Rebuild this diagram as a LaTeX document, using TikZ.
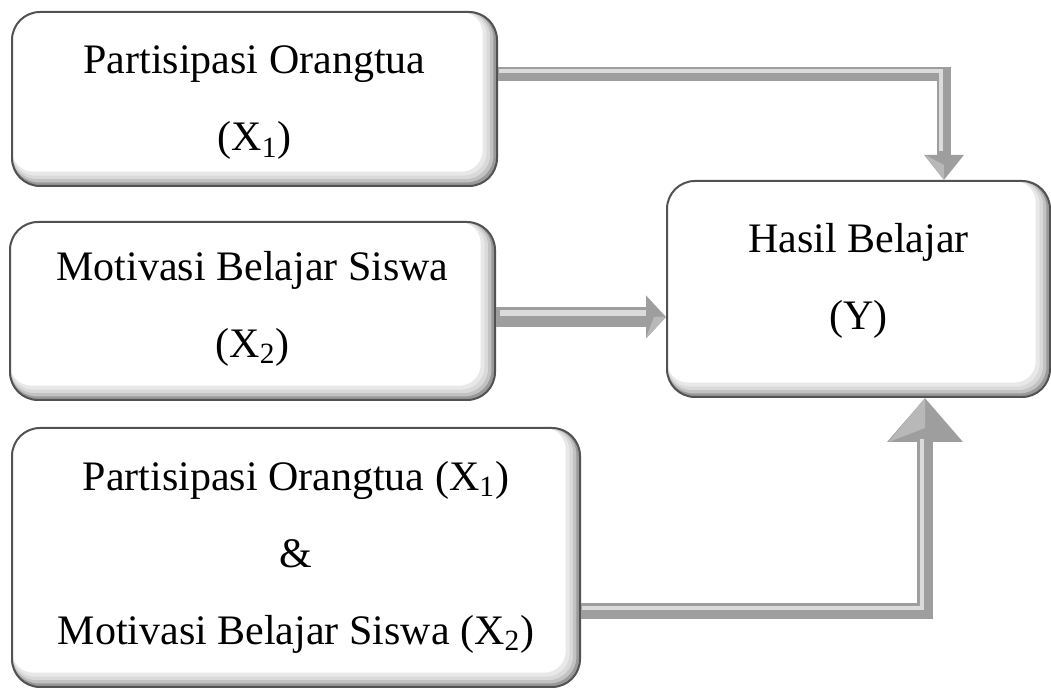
\documentclass[tikz,border=0pt]{standalone}
\usepackage{fontspec}
\setmainfont{Liberation Serif}
\usetikzlibrary{arrows.meta,calc}
\begin{document}
\begin{tikzpicture}[x=0.5pt,y=-0.5pt,
  box/.style={draw=black!68, line width=1pt, fill=white, rounded corners=14pt,
    inner sep=0pt,
    path picture={
      \foreach \s/\c in {3.6/9,2.6/15,1.7/24,0.9/40}{
        \draw[black!\c, line width=2*\s pt, rounded corners=14pt]
          ([shift={(-\s pt,\s pt)}]path picture bounding box.south west) rectangle
          ([shift={(-\s pt,\s pt)}]path picture bounding box.north east);}
    }},
  txt/.style={align=center, inner sep=0pt, font=\fontsize{21}{38.5}\selectfont},
  shaft/.style={draw=black!38, line join=miter},
  hilite/.style={draw=black!14, line width=2.2pt, line join=miter},
  bevel/.style={fill=black!28}]
\useasboundingbox (0,0) rectangle (1051,689);
\fill[white] (0,0) rectangle (1051,689);

\node[box, minimum width=242.5pt, minimum height=87pt] (b1) at (254.5,99) {};
\node[txt] (b1t) at ($(b1)+(0,4)$) {Partisipasi Orangtua\\(X\textsubscript{1})};
\node[box, minimum width=242.5pt, minimum height=89pt] (b2) at (252.5,311) {};
\node[txt] (b2t) at ($(b2)+(0,-2)$) {Motivasi Belajar Siswa\\(X\textsubscript{2})};
\node[box, minimum width=284pt, minimum height=129.5pt] (b3) at (296,557.5) {};
\node[txt] (b3t) at (b3) {Partisipasi Orangtua (X\textsubscript{1})\\\&\\Motivasi Belajar Siswa (X\textsubscript{2})};
\node[box, minimum width=191.5pt, minimum height=108pt] (bY) at (858.5,289) {};
\node[txt] (bYt) at ($(bY)+(0,-8)$) {Hasil Belajar\\(Y)};

% arrow 1
\coordinate (a1s) at ($(b1.east)+(0,-25)$);
\coordinate (a1e) at ($(bY.north)+(85.5,0)$);
\draw[shaft, line width=7pt, -{Triangle[width=19pt,length=12.5pt]}] (a1s) -| (a1e);
\draw[hilite, shorten >=13pt, transform canvas={shift={(-1.5pt,1.5pt)}}] ($(a1s)+(4,0)$) -| (a1e);
\fill[bevel] (a1e) -- ++(-19,-25) -- ++(19,10) -- cycle;

% arrow 2
\coordinate (a2s) at ($(b2.east)+(0,6)$);
\coordinate (a2e) at ($(bY.west)+(0,28)$);
\draw[shaft, line width=10pt, -{Triangle[width=21pt,length=10pt]}] (a2s) -- (a2e);
\draw[hilite, line width=3pt, shorten >=10pt, transform canvas={yshift=2pt}] ($(a2s)+(4,0)$) -- (a2e);
\fill[bevel] (a2e) -- ++(-20,21) -- ++(8,-21) -- cycle;

% arrow 3
\coordinate (a3s) at ($(b3.east)+(0,53.5)$);
\coordinate (a3e) at ($(bY.south)+(66.5,0)$);
\draw[shaft, line width=8pt, -{Triangle[width=36.5pt,length=22pt]}] (a3s) -| (a3e);
\draw[hilite, shorten >=22pt, transform canvas={shift={(-1.5pt,1.5pt)}}] ($(a3s)+(4,0)$) -| (a3e);
\fill[bevel] (a3e) -- ++(-36.5,44) -- ++(36.5,-14) -- cycle;
\end{tikzpicture}
\end{document}
